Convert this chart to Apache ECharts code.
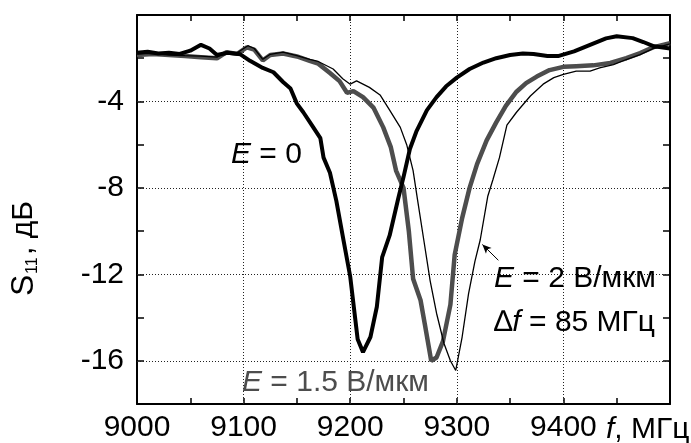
<!DOCTYPE html>
<html>
<head>
<meta charset="utf-8">
<script src="https://cdn.jsdelivr.net/npm/echarts@6/dist/echarts.min.js"></script>
<style>
html, body { margin: 0; padding: 0; background: #fff; }
#chart { width: 691px; height: 443px; }
</style>
</head>
<body>
<div id="chart"></div>
<script>
// E = 0 (thick black)
var e0Freq = [9000, 9010, 9020, 9030, 9040, 9050, 9060, 9068, 9075, 9085, 9097, 9106, 9118, 9128, 9137, 9144,
              9150, 9156, 9164, 9172, 9175, 9181, 9187, 9194, 9200, 9207, 9212, 9219, 9225, 9230, 9237, 9245,
              9250, 9256, 9262, 9272, 9281, 9290, 9300, 9312, 9325, 9337, 9350, 9362, 9372, 9385, 9395, 9410,
              9425, 9440, 9450, 9465, 9475, 9485, 9500];
var e0S    = [-1.75, -1.7, -1.78, -1.75, -1.8, -1.65, -1.38, -1.55, -1.85, -1.75, -1.82, -2.12, -2.45, -2.65, -3.1, -3.4,
              -4.1, -4.5, -5.1, -5.7, -6.6, -7.3, -8.6, -10.5, -12.1, -15.0, -15.6, -14.9, -13.5, -11.2, -10.2, -8.5,
              -7.5, -6.2, -5.4, -4.4, -3.8, -3.3, -2.9, -2.5, -2.2, -2.0, -1.85, -1.78, -1.8, -1.9, -1.9, -1.68,
              -1.38, -1.08, -0.98, -1.07, -1.25, -1.45, -1.55];

// E = 1.5 V/um (thick grey)
var e15Freq = [9000, 9015, 9030, 9045, 9060, 9075, 9084, 9094, 9103, 9110, 9118, 9125, 9137, 9150, 9162, 9170,
               9181, 9190, 9197, 9203, 9212, 9222, 9231, 9238, 9243, 9250, 9255, 9259, 9266, 9270, 9276, 9281,
               9287, 9294, 9298, 9305, 9312, 9319, 9328, 9337, 9346, 9356, 9365, 9375, 9387, 9400, 9412, 9428,
               9444, 9459, 9472, 9484, 9500];
var e15S    = [-1.85, -1.8, -1.85, -1.9, -1.95, -2.0, -1.72, -1.8, -1.5, -1.6, -2.1, -1.85, -1.78, -1.92, -2.12, -2.25,
               -2.68, -3.06, -3.6, -3.52, -3.8, -4.3, -5.2, -6.1, -7.2, -8.0, -10.0, -12.2, -13.2, -14.3, -16.0, -15.85,
               -15.1, -13.4, -11.1, -9.4, -8.0, -6.9, -5.8, -4.97, -4.2, -3.55, -3.15, -2.85, -2.55, -2.4, -2.37, -2.33,
               -2.22, -2.0, -1.76, -1.5, -1.3];

// E = 2 V/um (thin black)
var e2Freq = [9000, 9015, 9030, 9045, 9060, 9075, 9084, 9094, 9104, 9110, 9118, 9125, 9137, 9150, 9162, 9170,
              9184, 9193, 9200, 9206, 9218, 9228, 9237, 9247, 9253, 9259, 9263, 9269, 9275, 9281, 9288, 9294,
              9299, 9305, 9311, 9317, 9322, 9329, 9334, 9340, 9347, 9356, 9369, 9381, 9391, 9400, 9412, 9425,
              9434, 9447, 9459, 9472, 9484, 9500];
var e2S    = [-1.8, -1.78, -1.85, -1.88, -1.9, -1.95, -1.7, -1.75, -1.42, -1.55, -2.05, -1.82, -1.72, -1.88, -2.05, -2.15,
              -2.5, -2.95, -3.2, -3.05, -3.35, -3.7, -4.4, -5.2, -6.0, -7.2, -8.5, -10.4, -12.3, -13.8, -15.2, -16.0,
              -16.45, -14.9, -12.9, -11.4, -10.4, -8.4, -7.6, -6.6, -5.1, -4.5, -3.75, -3.2, -2.9, -2.75, -2.6, -2.6,
              -2.45, -2.3, -2.06, -1.83, -1.56, -1.34];

var gridFreq = [9100, 9200, 9300, 9400];
var gridS = [-4, -8, -12, -16];
var arrowFrom = [9339, -11.35];
var arrowTo = [9324, -10.62];

function zip(xs, ys) {
    var out = [];
    for (var i = 0; i < xs.length; i++) out.push([xs[i], ys[i]]);
    return out;
}

var FONT = 'Liberation Sans, Arial, sans-serif';
var GREY = '#4d4d4d';

var chart = echarts.init(document.getElementById('chart'));

var gridLines = [];
gridFreq.forEach(function (f) { gridLines.push({ xAxis: f }); });
gridS.forEach(function (s) { gridLines.push({ yAxis: s }); });

function axisCommon(pos, showLabel) {
    return {
        type: 'value',
        position: pos,
        axisLine: { show: true, onZero: false, lineStyle: { color: '#000', width: 2 } },
        axisTick: { show: true, inside: true, length: 6, lineStyle: { color: '#000', width: 1.5 } },
        splitLine: { show: false },
        axisLabel: { show: showLabel }
    };
}

var xBottom = axisCommon('bottom', true);
xBottom.min = 9000; xBottom.max = 9500; xBottom.interval = 50;
xBottom.axisLabel = {
    show: true, margin: 9, color: '#000', fontSize: 30, fontFamily: FONT,
    formatter: function (v) { return (v % 100 === 0 && v < 9500) ? String(v) : ''; }
};
var xTop = axisCommon('top', false);
xTop.min = 9000; xTop.max = 9500; xTop.interval = 50;

var yLeft = axisCommon('left', true);
yLeft.min = -18; yLeft.max = 0; yLeft.interval = 2;
yLeft.axisTick.length = 7;
yLeft.axisLabel = {
    show: true, margin: 13, color: '#000', fontSize: 30, fontFamily: FONT,
    formatter: function (v) { return (v % 4 === 0 && v !== 0) ? String(v) : ''; }
};
var yRight = axisCommon('right', false);
yRight.min = -18; yRight.max = 0; yRight.interval = 2;
yRight.axisTick.length = 7;

var option = {
    animation: false,
    backgroundColor: '#fff',
    grid: { left: 137, right: 21, top: 15, bottom: 36 },
    xAxis: [xBottom, xTop],
    yAxis: [yLeft, yRight],
    series: [
        {
            name: 'grid',
            type: 'line',
            data: [],
            z: 1,
            silent: true,
            markLine: {
                silent: true,
                z: 1,
                symbol: ['none', 'none'],
                label: { show: false },
                lineStyle: { color: '#222', width: 1, type: [1, 2] },
                data: gridLines
            }
        },
        {
            name: 'E = 1.5',
            type: 'line',
            data: zip(e15Freq, e15S),
            showSymbol: false,
            z: 3,
            lineStyle: { color: GREY, width: 4.5 }
        },
        {
            name: 'E = 2',
            type: 'line',
            data: zip(e2Freq, e2S),
            showSymbol: false,
            z: 4,
            lineStyle: { color: '#000', width: 1.3 },
            markLine: {
                silent: true,
                symbol: ['none', 'arrow'],
                symbolSize: [6, 9],
                label: { show: false },
                lineStyle: { color: '#000', width: 1, type: 'solid' },
                data: [[{ coord: arrowFrom }, { coord: arrowTo }]]
            }
        },
        {
            name: 'E = 0',
            type: 'line',
            data: zip(e0Freq, e0S),
            showSymbol: false,
            z: 5,
            lineStyle: { color: '#000', width: 4 }
        }
    ],
    graphic: [
        {
            type: 'text', left: 231, top: 140, z: 10,
            style: {
                text: '{i|E} = 0', font: '30px ' + FONT, fill: '#000',
                rich: { i: { fontStyle: 'italic', fontSize: 30, fontFamily: FONT, fill: '#000' } }
            }
        },
        {
            type: 'text', left: 242, top: 368, z: 10,
            style: {
                text: '{i|E} = 1.5 В/мкм', font: '30px ' + FONT, fill: GREY,
                rich: { i: { fontStyle: 'italic', fontSize: 30, fontFamily: FONT, fill: GREY } }
            }
        },
        {
            type: 'text', left: 494, top: 264, z: 10,
            style: {
                text: '{i|E} = 2 В/мкм', font: '30px ' + FONT, fill: '#000',
                rich: { i: { fontStyle: 'italic', fontSize: 30, fontFamily: FONT, fill: '#000' } }
            }
        },
        {
            type: 'text', left: 494, top: 308, z: 10,
            style: {
                text: '∆{i|f} = 85 МГц', font: '30px ' + FONT, fill: '#000',
                rich: { i: { fontStyle: 'italic', fontSize: 30, fontFamily: FONT, fill: '#000' } }
            }
        },
        {
            type: 'text', left: 606, top: 415, z: 10,
            style: {
                text: '{i|f}, МГц', font: '30px ' + FONT, fill: '#000',
                rich: { i: { fontStyle: 'italic', fontSize: 30, fontFamily: FONT, fill: '#000' } }
            }
        },
        {
            type: 'group', x: 24, y: 242, rotation: Math.PI / 2, z: 10,
            children: [
                { type: 'text', x: -54, y: 0, style: { text: 'S', font: '32px ' + FONT, fill: '#000', align: 'left', verticalAlign: 'middle' } },
                { type: 'text', x: -32, y: 9, style: { text: '11', font: '16px ' + FONT, fill: '#000', align: 'left', verticalAlign: 'middle' } },
                { type: 'text', x: -13, y: 0, style: { text: ', дБ', font: '30px ' + FONT, fill: '#000', align: 'left', verticalAlign: 'middle' } }
            ]
        }
    ]
};

chart.setOption(option);
</script>
</body>
</html>
